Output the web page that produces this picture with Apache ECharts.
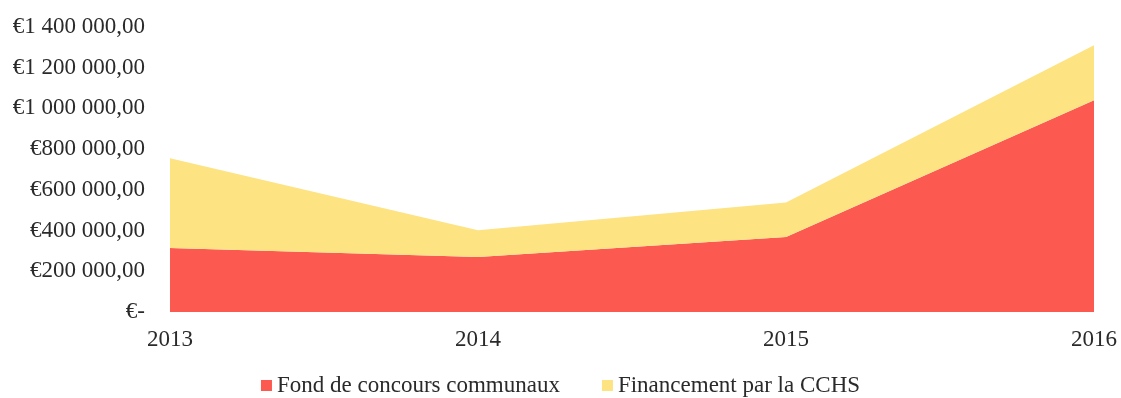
<!DOCTYPE html>
<html>
<head>
<meta charset="utf-8">
<script src="https://cdn.jsdelivr.net/npm/echarts@6/dist/echarts.min.js"></script>
<style>html,body{margin:0;padding:0;background:#fff;}#c{width:1121px;height:398px;}</style>
</head>
<body>
<div id="c"></div>
<script>
const categories = ['2013', '2014', '2015', '2016'];
const fondConcours = [314000, 270000, 368000, 1040000];
const financementCCHS = [441000, 132000, 170000, 270000];
const seriesNames = ['Fond de concours communaux', 'Financement par la CCHS'];

function fmt(v) {
  if (v === 0) return '€-';
  const s = String(Math.round(v)).replace(/\B(?=(\d{3})+(?!\d))/g, ' ');
  return '€' + s + ',00';
}

const chart = echarts.init(document.getElementById('c'), null, {renderer: 'canvas'});
chart.setOption({
  animation: false,
  textStyle: {fontFamily: 'Liberation Serif'},
  grid: {left: 170, right: 27, top: 27, bottom: 86},
  legend: {
    top: 374, padding: 0, left: 'center', itemWidth: 11, itemHeight: 11, itemGap: 42, icon: 'rect',
    textStyle: {fontFamily: 'Liberation Serif', fontSize: 23, color: '#2a2a2a'},
    data: seriesNames
  },
  xAxis: {
    type: 'category', data: categories, boundaryGap: false,
    axisLine: {show: false}, axisTick: {show: false},
    axisLabel: {fontFamily: 'Liberation Serif', fontSize: 23, color: '#2a2a2a', margin: 16}
  },
  yAxis: {
    type: 'value', min: 0, max: 1400000, interval: 200000,
    splitLine: {show: false}, axisLine: {show: false}, axisTick: {show: false},
    axisLabel: {fontFamily: 'Liberation Serif', fontSize: 23, color: '#2a2a2a', margin: 25, formatter: fmt}
  },
  series: [
    {name: seriesNames[0], type: 'line', stack: 'total', data: fondConcours, symbol: 'none',
     lineStyle: {width: 0}, itemStyle: {color: '#FC5A50'}, areaStyle: {color: '#FC5A50', opacity: 1}},
    {name: seriesNames[1], type: 'line', stack: 'total', data: financementCCHS, symbol: 'none',
     lineStyle: {width: 0}, itemStyle: {color: '#FDE382'}, areaStyle: {color: '#FDE382', opacity: 1}}
  ]
});
</script>
</body>
</html>
